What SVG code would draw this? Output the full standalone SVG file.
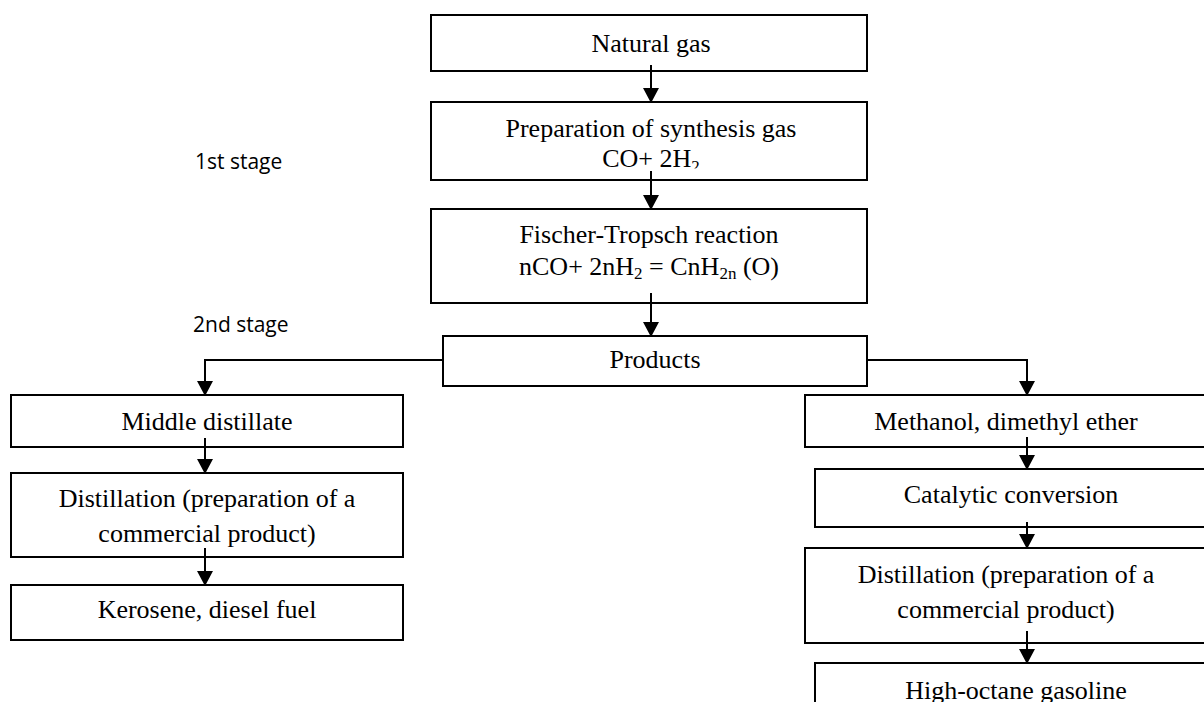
<svg xmlns="http://www.w3.org/2000/svg" width="1204" height="702" viewBox="0 0 1204 702">
<style>
.box{fill:#fff;stroke:#000;stroke-width:2}
.t{font-family:"Liberation Serif","Times New Roman",serif;font-size:26px;fill:#000;text-anchor:middle}
.s{font-family:"Open Sans","Liberation Sans",sans-serif;font-size:21px;fill:#000}
.c{stroke:#000;stroke-width:2;fill:none}
</style>
<defs>
<marker id="ah" markerWidth="16" markerHeight="16" refX="15" refY="8" orient="auto" markerUnits="userSpaceOnUse">
<path d="M0,0 L15,8 L0,16 Z" fill="#000"/>
</marker>
<clipPath id="clipco"><rect x="431" y="140" width="436" height="28.5"/></clipPath>
</defs>
<rect width="1204" height="702" fill="#fff"/>
<text class="s" x="195" y="169">1st stage</text>
<text class="s" x="193" y="332">2nd stage</text>
<g id="n1"><rect class="box" x="431" y="15" width="436" height="56"/><text class="t" x="651" y="52">Natural gas</text></g>
<g id="n2"><rect class="box" x="431" y="102" width="436" height="78"/><text class="t" x="651" y="137">Preparation of synthesis gas</text><text class="t" x="651" y="167" clip-path="url(#clipco)">CO+ 2H<tspan font-size="17" dy="5">2</tspan></text></g>
<g id="n3"><rect class="box" x="431" y="209" width="436" height="94"/><text class="t" x="649" y="243">Fischer-Tropsch reaction</text><text class="t" x="649" y="275">nCO+ 2nH<tspan font-size="17" dy="4">2</tspan><tspan dy="-4"> = CnH</tspan><tspan font-size="17" dy="4">2n</tspan><tspan dy="-4"> (O)</tspan></text></g>
<g id="n4"><rect class="box" x="443" y="336" width="424" height="50"/><text class="t" x="655" y="368">Products</text></g>
<g id="n5"><rect class="box" x="11" y="395" width="392" height="52"/><text class="t" x="207" y="430">Middle distillate</text></g>
<g id="n6"><rect class="box" x="11" y="473" width="392" height="84"/><text class="t" x="207" y="507">Distillation (preparation of a</text><text class="t" x="207" y="542">commercial product)</text></g>
<g id="n7"><rect class="box" x="11" y="585" width="392" height="55"/><text class="t" x="207" y="618">Kerosene, diesel fuel</text></g>
<g id="n8"><rect class="box" x="805" y="395" width="410" height="52"/><text class="t" x="1006" y="430">Methanol, dimethyl ether</text></g>
<g id="n9"><rect class="box" x="815" y="469" width="400" height="58"/><text class="t" x="1011" y="503">Catalytic conversion</text></g>
<g id="n10"><rect class="box" x="805" y="548" width="410" height="95"/><text class="t" x="1006" y="583">Distillation (preparation of a</text><text class="t" x="1006" y="618">commercial product)</text></g>
<g id="n11"><rect class="box" x="815" y="663" width="400" height="60"/><text class="t" x="1016" y="699">High-octane gasoline</text></g>
<g id="connectors">
<line class="c" x1="651" y1="65" x2="651" y2="103" marker-end="url(#ah)"/>
<line class="c" x1="651" y1="171" x2="651" y2="210" marker-end="url(#ah)"/>
<line class="c" x1="651" y1="293" x2="651" y2="337" marker-end="url(#ah)"/>
<polyline class="c" points="443,360 205,360 205,396" marker-end="url(#ah)"/>
<polyline class="c" points="867,360 1027,360 1027,396" marker-end="url(#ah)"/>
<line class="c" x1="205" y1="438" x2="205" y2="474" marker-end="url(#ah)"/>
<line class="c" x1="205" y1="548" x2="205" y2="586" marker-end="url(#ah)"/>
<line class="c" x1="1027" y1="437" x2="1027" y2="470" marker-end="url(#ah)"/>
<line class="c" x1="1027" y1="522" x2="1027" y2="549" marker-end="url(#ah)"/>
<line class="c" x1="1027" y1="631" x2="1027" y2="664" marker-end="url(#ah)"/>
</g>
</svg>
